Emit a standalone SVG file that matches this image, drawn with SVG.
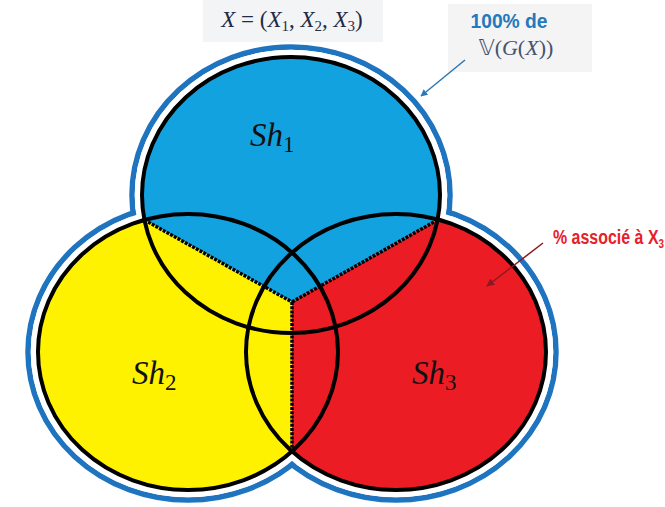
<svg xmlns="http://www.w3.org/2000/svg" width="665" height="507" viewBox="0 0 665 507">
<style>
.outerBlue{fill:none;stroke:#1f74c0;stroke-width:5.5}
.outerWhite{fill:#fff;stroke:none}
.ring{fill:none;stroke:#000;stroke-width:4}
.divider{fill:none;stroke:#000;stroke-width:3.5;stroke-dasharray:3 1.2}
.lbl{font-family:"Liberation Serif",serif;font-style:italic;font-size:33px;fill:#111}
.sub{font-style:normal;font-size:23px}
.math{font-family:"Liberation Serif",serif;font-size:23px;fill:#1f2b48}
</style>
<defs>
<clipPath id="unionClip">
<ellipse cx="291" cy="195" rx="149" ry="138"/>
<ellipse cx="188" cy="352" rx="150" ry="138"/>
<ellipse cx="396" cy="352" rx="150" ry="138"/>
</clipPath>
<marker id="arrBlue" viewBox="0 0 10 10" refX="9" refY="5" markerWidth="7" markerHeight="7" orient="auto" markerUnits="userSpaceOnUse">
<path d="M0,0 L10,5 L0,10 z" fill="#2b78b8"/>
</marker>
<marker id="arrRed" viewBox="0 0 10 10" refX="9" refY="5" markerWidth="8" markerHeight="8" orient="auto" markerUnits="userSpaceOnUse">
<path d="M0,0 L10,5 L0,10 z" fill="#8a1a22"/>
</marker>
</defs>
<rect width="665" height="507" fill="#fff"/>
<g id="outline">
<ellipse class="outerBlue" cx="291" cy="195" rx="159" ry="148"/>
<ellipse class="outerBlue" cx="188" cy="352" rx="160" ry="148"/>
<ellipse class="outerBlue" cx="396" cy="352" rx="160" ry="148"/>
<ellipse class="outerWhite" cx="291" cy="195" rx="156.3" ry="145.3"/>
<ellipse class="outerWhite" cx="188" cy="352" rx="157.3" ry="145.3"/>
<ellipse class="outerWhite" cx="396" cy="352" rx="157.3" ry="145.3"/>
</g>
<g id="regions" clip-path="url(#unionClip)">
<polygon points="0,0 665,0 665,92 292,302 0,139.6" fill="#12a2e0"/>
<polygon points="0,139.6 292,302 292,507 0,507" fill="#fff200"/>
<polygon points="665,92 292,302 292,507 665,507" fill="#ec1c24"/>
</g>
<g id="dividers">
<line class="divider" x1="144.5" y1="220" x2="292" y2="302"/>
<line class="divider" x1="437.5" y1="220" x2="292" y2="302"/>
<line class="divider" x1="292" y1="302" x2="292" y2="451.5"/>
</g>
<g id="sh1">
<ellipse class="ring" cx="291" cy="195" rx="149" ry="138"/>
<text class="lbl" x="250" y="146">Sh<tspan class="sub" dy="6">1</tspan></text>
</g>
<g id="sh2">
<ellipse class="ring" cx="188" cy="352" rx="150" ry="138"/>
<text class="lbl" x="132" y="384">Sh<tspan class="sub" dy="6">2</tspan></text>
</g>
<g id="sh3">
<ellipse class="ring" cx="396" cy="352" rx="150" ry="138"/>
<text class="lbl" x="412" y="384">Sh<tspan class="sub" dy="6">3</tspan></text>
</g>
<g id="title">
<rect x="203" y="0" width="180" height="42" fill="#f3f4f6"/>
<text class="math" x="292" y="27" text-anchor="middle"><tspan font-style="italic">X</tspan> = (<tspan font-style="italic">X</tspan><tspan font-size="15" dy="4">1</tspan><tspan dy="-4">, </tspan><tspan font-style="italic">X</tspan><tspan font-size="15" dy="4">2</tspan><tspan dy="-4">, </tspan><tspan font-style="italic">X</tspan><tspan font-size="15" dy="4">3</tspan><tspan dy="-4">)</tspan></text>
</g>
<g id="note-total">
<rect x="448" y="4" width="144" height="68" fill="#f4f4f4"/>
<text x="509" y="28" text-anchor="middle" font-family="Liberation Sans,Arial,sans-serif" font-weight="bold" font-size="21" fill="#2479bd" textLength="77" lengthAdjust="spacingAndGlyphs">100% de</text>
<text x="516" y="55" text-anchor="middle" font-family="Liberation Serif,serif" font-size="22" fill="#44536f"><tspan font-family="DejaVu Sans,sans-serif">𝕍</tspan>(<tspan font-style="italic">G</tspan>(<tspan font-style="italic">X</tspan>))</text>
</g>
<g id="note-x3">
<text transform="translate(553,244) scale(0.76,1)" font-family="Liberation Sans,Arial,sans-serif" font-weight="bold" font-size="21" fill="#e8202a">% associé à X<tspan font-size="13" dy="4">3</tspan></text>
</g>
<g id="connectors">
<line x1="465" y1="60" x2="421" y2="96" stroke="#2b78b8" stroke-width="1.5" marker-end="url(#arrBlue)"/>
<line x1="543" y1="243" x2="487" y2="286" stroke="#8a1a22" stroke-width="1.5" marker-end="url(#arrRed)"/>
</g>
</svg>
